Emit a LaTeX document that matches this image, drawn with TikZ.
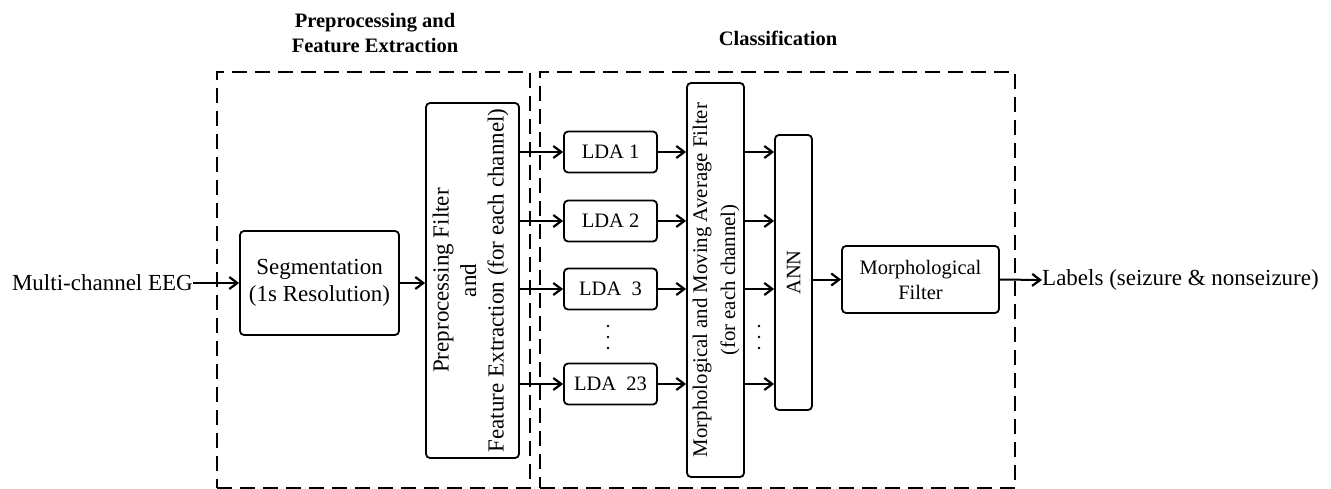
\documentclass[tikz,border=0pt]{standalone}
\usepackage{fontspec}
\setmainfont{Liberation Serif}
\usetikzlibrary{arrows.meta}
\begin{document}
\begin{tikzpicture}[x=1pt,y=-1pt,
  blk/.style={draw, line width=1.8pt, rounded corners=4pt, inner sep=0pt, align=center},
  big/.style={font=\fontsize{23}{27.5}\selectfont},
  small/.style={font=\fontsize{20.5}{25}\selectfont},
  ttl/.style={font=\fontsize{20.5}{25}\selectfont\bfseries, align=center, inner sep=0pt},
  arr/.style={line width=2pt, -{Straight Barb[length=8pt,width=12pt,line width=2.2pt]}},
  group/.style={draw, line width=2.2pt, dash pattern=on 15pt off 8pt, inner sep=0pt},
  lda/.style={blk, small, minimum width=93, minimum height=41},
  dotc/.style={circle, fill, inner sep=0pt, minimum size=2.6pt}
]
\useasboundingbox (0,0) rectangle (1331,489);

% dashed stage frames
\node[group, minimum width=313, minimum height=416] (g1) at (373.5,280) {};
\node[group, minimum width=475, minimum height=416] (g2) at (777.5,280) {};
\node[ttl] (t1) at (375,33) {Preprocessing and\\Feature Extraction};
\node[ttl] (t2) at (778,38) {Classification};

% input and first stage
\node[big, anchor=east, inner sep=0pt] (eeg) at (193,283) {Multi-channel EEG};
\node[blk, big, minimum width=159, minimum height=104] (seg) at (319.5,283) {Segmentation\\(1s Resolution)};
\node[blk, minimum width=93, minimum height=355] (pre) at (472.5,280.5) {};
\node[big, rotate=90, align=center, inner sep=0pt] (pret) at (470.5,280.5)
  {Preprocessing Filter\\and\\Feature Extraction (for each channel)};

% per-channel classifiers
\node[lda] (lda1) at (610.5,152) {LDA 1};
\node[lda] (lda2) at (610.5,221) {LDA 2};
\node[lda] (lda3) at (610.5,289) {LDA~~3};
\node[lda] (lda4) at (610.5,384) {LDA~~23};

\node[blk, minimum width=57, minimum height=394] (morph) at (715.5,280) {};
\node[rotate=90, align=center, inner sep=0pt, font=\fontsize{20.8}{28}\selectfont] (morpht) at (716,280)
  {Morphological and Moving Average Filter\\(for each channel)};

\node[blk, minimum width=37, minimum height=275] (ann) at (793.5,272.5) {};
\node[small, rotate=90, inner sep=0pt] (annt) at (793.5,272.5) {ANN};

\node[blk, small, minimum width=157, minimum height=67] (mf) at (920.5,279.5) {Morphological\\Filter};
\node[big, anchor=west, inner sep=0pt] (lbl) at (1042,280) {Labels (seizure \& nonseizure)};

% ellipsis dots
\foreach \yy [count=\k] in {326,337,348} {
  \node[dotc] (da\k) at (608,\yy) {};
  \node[dotc] (db\k) at (759,\yy) {};
}

% connectors
\draw[arr] (eeg.east) -- (seg.west);
\draw[arr] (seg.east) -- (seg.east -| pre.west);
\foreach \i in {1,2,3,4} {
  \draw[arr] (pre.east |- lda\i.west) -- (lda\i.west);
  \draw[arr] (lda\i.east) -- (lda\i.east -| morph.west);
  \draw[arr] (morph.east |- lda\i.east) -- (lda\i.east -| ann.west);
}
\draw[arr] (ann.east |- mf.west) -- (mf.west);
\draw[arr] (mf.east) -- (lbl.west);
\end{tikzpicture}
\end{document}
